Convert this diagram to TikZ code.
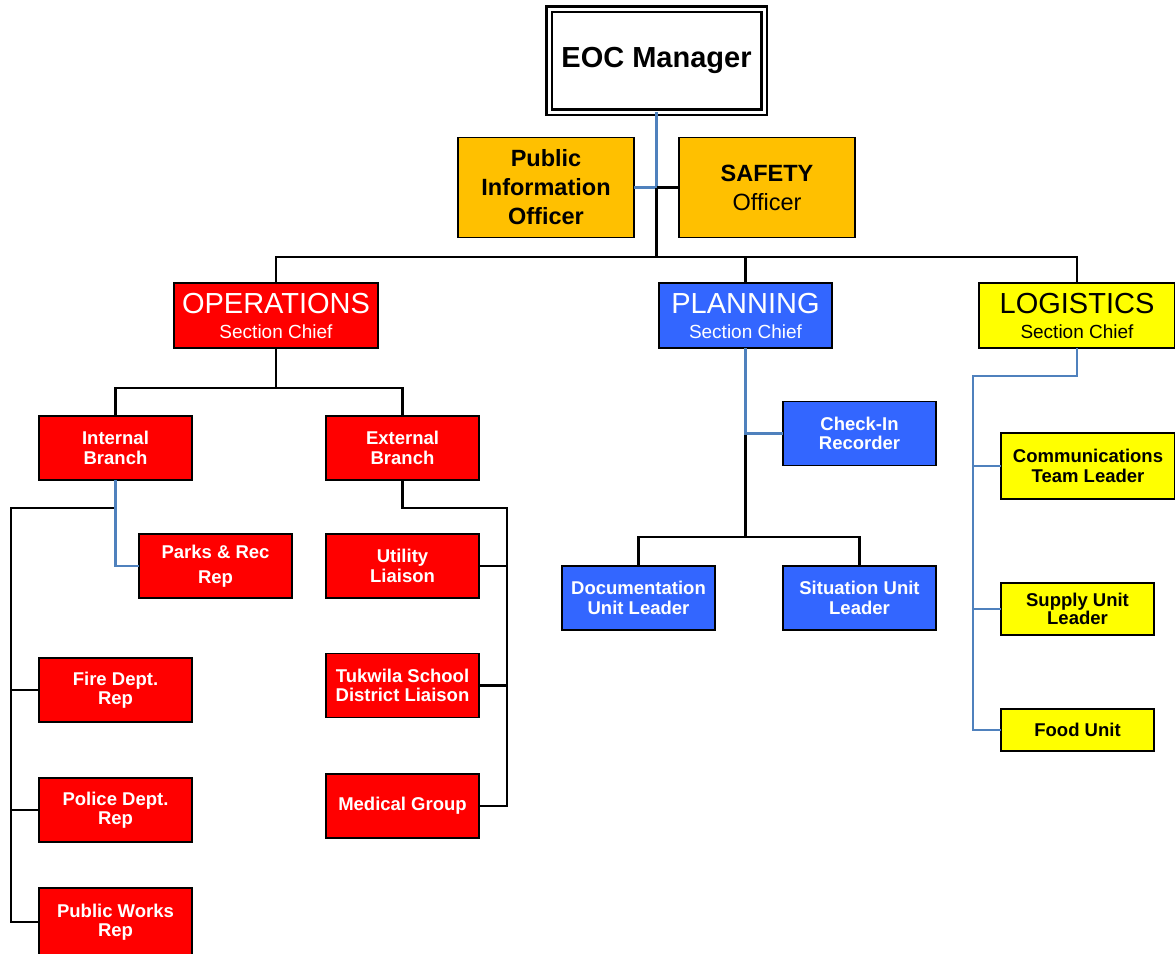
\documentclass[tikz,border=0pt]{standalone}
\usepackage{fontspec}
\setmainfont{Liberation Sans}
\definecolor{opsred}{RGB}{255,0,0}
\definecolor{planblue}{RGB}{51,102,255}
\definecolor{offorange}{RGB}{255,192,0}
\definecolor{logyellow}{RGB}{255,255,0}
\definecolor{linkblue}{RGB}{79,129,189}
\tikzset{
  box/.style={draw=black, line width=1.8pt, inner sep=0pt, outer sep=0pt, align=center},
  small/.style={box, minimum width=153pt, minimum height=64pt, font=\bfseries\fontsize{18.5}{19.5}\selectfont},
  redbox/.style={small, fill=opsred, text=white},
  bluebox/.style={small, fill=planblue, text=white},
  yelbox/.style={small, fill=logyellow, text=black},
  section/.style={box, minimum height=65pt, font=\fontsize{19}{25}\selectfont},
  officer/.style={box, fill=offorange, minimum width=176pt, minimum height=100pt, font=\fontsize{23.5}{29}\selectfont},
  blk/.style={draw=black, line width=2.2pt},
  blu/.style={draw=linkblue, line width=2.2pt}
}
\begin{document}
\begin{tikzpicture}[x=1pt,y=-1pt]
\useasboundingbox (0,0) rectangle (1175,953);
% top
\node[box, double=white, double distance=3pt, line width=2.5pt, minimum width=215pt, minimum height=103pt, fill=white, font=\bfseries\fontsize{29}{32}\selectfont] (eoc) at (656.5,60.5) {\raisebox{-3pt}{EOC Manager}};
\node[officer, font=\bfseries\fontsize{23.5}{29}\selectfont] (pio) at (546,187.5) {Public\\Information\\Officer};
\node[officer] (safety) at (767,187.5) {\raisebox{-3pt}{\textbf{SAFETY}}\\\raisebox{-3pt}{Officer}};
% sections
\node[section, fill=opsred, text=white, minimum width=204pt] (ops) at (276,315.5) {{\fontsize{29}{25}\selectfont OPERATIONS}\\Section Chief};
\node[section, fill=planblue, text=white, minimum width=173pt] (plan) at (745.5,315.5) {{\fontsize{29}{25}\selectfont PLANNING}\\Section Chief};
\node[section, fill=logyellow, text=black, minimum width=196pt] (log) at (1077,315.5) {{\fontsize{29}{25}\selectfont LOGISTICS}\\Section Chief};
% operations
\node[redbox] (int) at (115.5,448) {Internal\\Branch};
\node[redbox] (ext) at (402.5,448) {External\\Branch};
\node[redbox, font=\bfseries\fontsize{18.5}{25}\selectfont] (parks) at (215.5,566) {Parks \& Rec\\Rep};
\node[redbox] (util) at (402.5,566) {Utility\\Liaison};
\node[redbox] (fire) at (115.5,690) {Fire Dept.\\Rep};
\node[redbox] (tuk) at (402.5,685.5) {Tukwila School\\District Liaison};
\node[redbox] (police) at (115.5,810) {Police Dept.\\Rep};
\node[redbox] (med) at (402.5,806) {Medical Group};
\node[redbox, minimum height=68pt] (pw) at (115.5,922) {Public Works\\Rep};
% planning
\node[bluebox] (check) at (859.5,433.5) {Check-In\\Recorder};
\node[bluebox] (doc) at (638.5,598) {Documentation\\Unit Leader};
\node[bluebox] (sit) at (859.5,598) {Situation Unit\\Leader};
% logistics
\node[yelbox, minimum width=174pt, minimum height=66pt] (comm) at (1088,466) {Communications\\Team Leader};
\node[yelbox, minimum height=52pt, font=\bfseries\fontsize{18.5}{18}\selectfont] (supply) at (1077.5,609) {Supply Unit\\Leader};
\node[yelbox, minimum height=42pt] (food) at (1077.5,730) {Food Unit};
% coordinates
\coordinate (bus) at (656.5,257);
\coordinate (opsbus) at (276,388);
\coordinate (intbus) at (115.5,508);
\coordinate (rail) at (11,508);
\coordinate (extbus) at (507,508);
\coordinate (planbus) at (745.5,537);
\coordinate (logbus) at (973,376);
% connectors top
\draw[blu] (eoc.south) |- (pio.east);
\draw[blk] (eoc.south |- safety.west) -- (safety.west);
\draw[blk] (eoc.south |- safety.west) -- (bus);
\draw[blk] (ops.north) |- (bus) -| (log.north);
\draw[blk] (plan.north) -- (plan.north |- bus);
% operations connectors
\draw[blk] (ops.south) -- (opsbus);
\draw[blk] (int.north) |- (opsbus) -| (ext.north);
\draw[blk] (intbus) -- (rail) |- (pw.west);
\draw[blk] (rail |- fire.west) -- (fire.west);
\draw[blk] (rail |- police.west) -- (police.west);
\draw[blu] (int.south) |- (parks.west);
\draw[blk] (ext.south) |- (extbus) |- (med.east);
\draw[blk] (util.east) -- (util.east -| extbus);
\draw[blk] (tuk.east) -- (tuk.east -| extbus);
% planning connectors
\draw[blk] (plan.south |- check.west) -- (planbus);
\draw[blk] (doc.north) |- (planbus) -| (sit.north);
\draw[blu] (plan.south) |- (check.west);
% logistics connectors
\draw[blu] (log.south) |- (logbus) |- (food.west);
\draw[blu] (comm.west -| logbus) -- (comm.west);
\draw[blu] (supply.west -| logbus) -- (supply.west);
\end{tikzpicture}
\end{document}
